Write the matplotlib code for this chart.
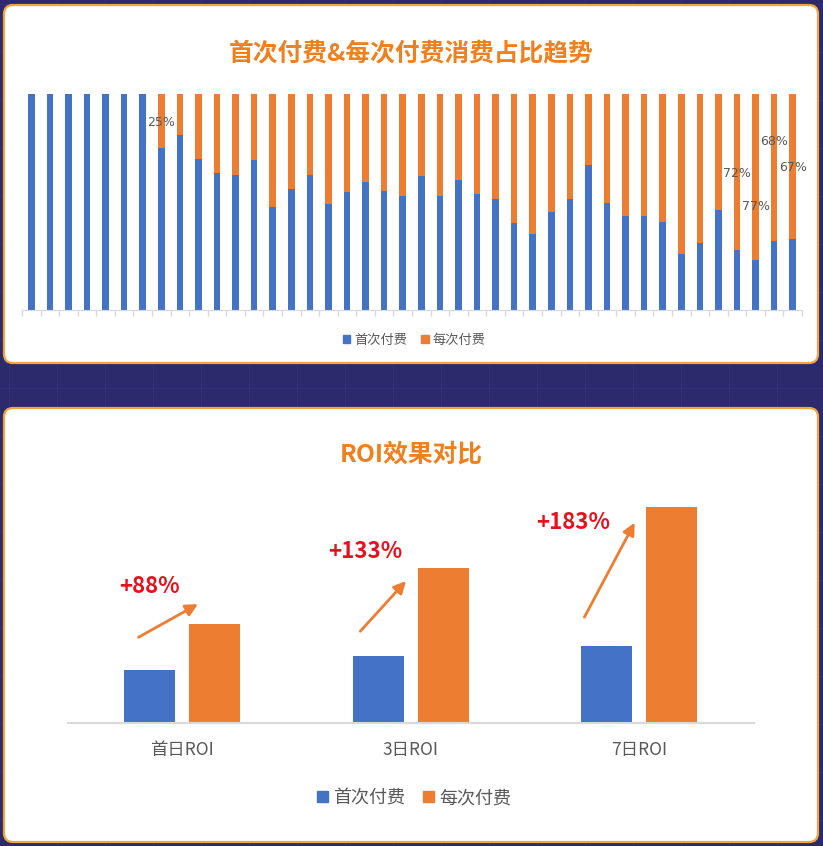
import numpy as np
import matplotlib
matplotlib.use('Agg')
from matplotlib import pyplot as plt
from matplotlib.patches import FancyBboxPatch, Patch

plt.rcParams['font.family'] = ['Noto Sans CJK SC', 'DejaVu Sans']

BLUE = '#4472C4'
ORANGE = '#ED7D31'
TITLE_ORANGE = '#F07F1E'
RED = '#E8101C'
NAVY = '#2C2A6C'
GRAY_TXT = '#595959'
AXIS_GRAY = '#D9D9D9'

# top chart: share of first payment (%) per period, rest is repeat payment
first_share = [100, 100, 100, 100, 100, 100, 100,
               75, 81, 70, 63.5, 62.6, 69.6, 47.6, 55.8, 62.6, 49.1, 54.4,
               59.2, 55.2, 52.6, 62.1, 52.9, 60.3, 53.8, 51.5, 40.2, 35.1,
               45.4, 51.5, 67.2, 49.5, 43.3, 43.3, 40.8, 26.1, 31.1, 46.2,
               28, 23, 32, 33]
labelled_bars = [7, 38, 39, 40, 41]
label_y = [87, 63, 48, 78, 66]  # where the % labels sit inside the orange part

# bottom chart: ROI
roi_categories = ['首日ROI', '3日ROI', '7日ROI']
roi_first = [0.52, 0.66, 0.76]
roi_each = [0.98, 1.54, 2.15]
series_names = ['首次付费', '每次付费']

W, H = 823, 846
fig = plt.figure(figsize=(W / 100, H / 100), dpi=100, facecolor=NAVY)

# background with faint grid and the two white cards
bg = fig.add_axes([0, 0, 1, 1])
bg.set_xlim(0, W)
bg.set_ylim(H, 0)
bg.axis('off')
for gx in np.arange(9, W, 48):
    bg.axvline(gx, color='#34317A', lw=0.8, zorder=0)
for gy in np.arange(4, H, 48):
    bg.axhline(gy, color='#34317A', lw=0.8, zorder=0)
for (x0, y0, x1, y1) in [(4, 5, 818, 363), (4, 408, 818, 842)]:
    bg.add_patch(FancyBboxPatch((x0, y0), x1 - x0, y1 - y0,
                                boxstyle='round,pad=0,rounding_size=9',
                                fc='white', ec='#F2A43A', lw=1.6, zorder=2))

# ---- top chart
ax1 = fig.add_axes([22 / W, 1 - 310 / H, 780 / W, 216 / H])
ax1.patch.set_alpha(0)
x = np.arange(len(first_share))
first = np.array(first_share)
each = 100 - first
ax1.bar(x, first, width=0.36, color=BLUE, label=series_names[0])
ax1.bar(x, each, bottom=first, width=0.36, color=ORANGE, label=series_names[1])
for i, ly in zip(labelled_bars, label_y):
    ax1.text(i, ly, f'{round(each[i])}%', ha='center', va='center',
             fontsize=9, color=GRAY_TXT, family=['DejaVu Sans'])
ax1.set_xlim(-0.5, len(first_share) - 0.5)
ax1.set_ylim(0, 100)
ax1.set_yticks([])
ax1.set_xticks(np.arange(-0.5, len(first_share)))
ax1.set_xticklabels([])
ax1.tick_params(axis='x', length=4, color=AXIS_GRAY, width=1)
for s in ['top', 'right', 'left']:
    ax1.spines[s].set_visible(False)
ax1.spines['bottom'].set_color(AXIS_GRAY)

fig.text(411 / W, 1 - 53 / H, '首次付费&每次付费消费占比趋势', ha='center', va='center',
         fontsize=17.8, fontweight='bold', color=TITLE_ORANGE)
fig.legend(handles=[Patch(color=BLUE), Patch(color=ORANGE)], labels=series_names,
           loc='center', bbox_to_anchor=(414 / W, 1 - 340 / H), ncol=2, frameon=False,
           fontsize=9.5, handlelength=0.6, handleheight=0.6, handletextpad=0.3,
           columnspacing=1.0, labelcolor=GRAY_TXT)

# ---- bottom chart
ax2 = fig.add_axes([67.6 / W, 1 - 722.7 / H, 686 / W, 241.2 / H])
ax2.patch.set_alpha(0)
xc = np.arange(len(roi_categories))
ax2.bar(xc - 0.142, roi_first, width=0.223, color=BLUE)
ax2.bar(xc + 0.142, roi_each, width=0.223, color=ORANGE)
ax2.set_xlim(-0.5, len(roi_categories) - 0.5)
ax2.set_ylim(0, 2.4)
ax2.set_yticks([])
ax2.set_xticks(xc)
ax2.set_xticklabels(roi_categories, fontsize=12.5, color=GRAY_TXT)
ax2.tick_params(axis='x', length=0, pad=13)
for s in ['top', 'right', 'left']:
    ax2.spines[s].set_visible(False)
ax2.spines['bottom'].set_color(AXIS_GRAY)
ax2.spines['bottom'].set_linewidth(1.5)

# growth arrows and labels (offsets from each group centre)
arrow_from = [(-0.19, 0.85), (-0.22, 0.91), (-0.24, 1.05)]
arrow_to = [(0.07, 1.18), (-0.02, 1.41), (-0.02, 1.99)]
text_at = [(-0.14, 1.36), (-0.20, 1.70), (-0.29, 1.99)]
for i in range(len(roi_categories)):
    growth = round((roi_each[i] / roi_first[i] - 1) * 100)
    ax2.annotate('', xy=(i + arrow_to[i][0], arrow_to[i][1]),
                 xytext=(i + arrow_from[i][0], arrow_from[i][1]),
                 arrowprops=dict(arrowstyle='-|>', color=ORANGE, lw=2, mutation_scale=18,
                                 shrinkA=0, shrinkB=0))
    ax2.text(i + text_at[i][0], text_at[i][1], f'+{growth}%', ha='center', va='center',
             fontsize=16, fontweight='bold', color=RED)

fig.text(411 / W, 1 - 455 / H, 'ROI效果对比', ha='center', va='center',
         fontsize=17.8, fontweight='bold', color=TITLE_ORANGE)
fig.legend(handles=[Patch(color=BLUE), Patch(color=ORANGE)], labels=series_names,
           loc='center', bbox_to_anchor=(414 / W, 1 - 798 / H), ncol=2, frameon=False,
           fontsize=13, handlelength=0.6, handleheight=0.6, handletextpad=0.3,
           columnspacing=1.0, labelcolor=GRAY_TXT)

fig.savefig('out.png', dpi=100, facecolor=NAVY)
